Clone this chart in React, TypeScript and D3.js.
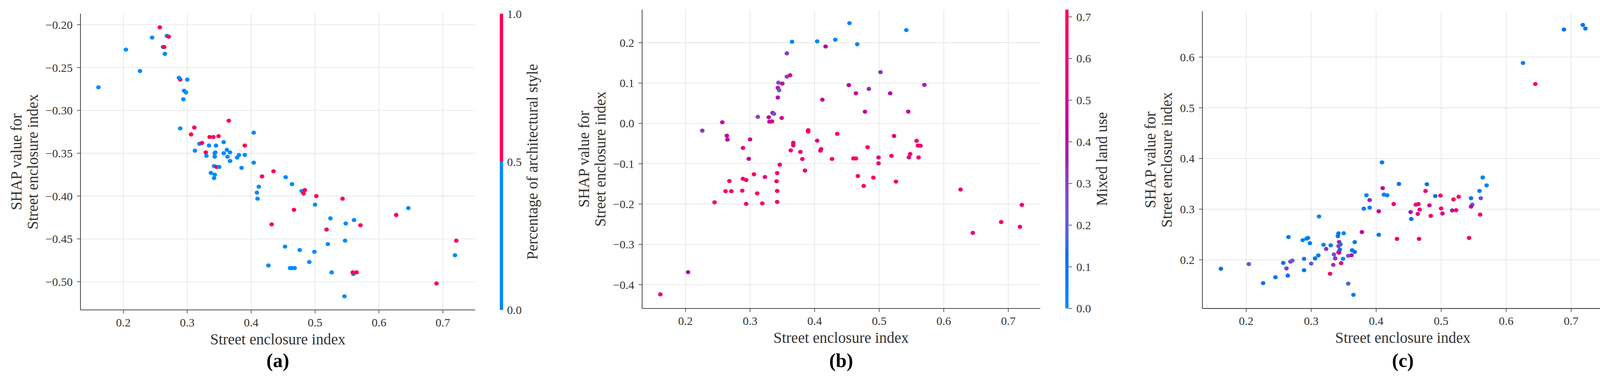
import React from "react";
import * as d3 from "d3";

type Pt = [number, number, number]; // [street enclosure, SHAP value, colour feature]

// shared x ticks
const xTickValues = [0.2, 0.3, 0.4, 0.5, 0.6, 0.7];

// y ticks per panel
const archTicksY = [-0.5, -0.45, -0.4, -0.35, -0.3, -0.25, -0.2];
const mixedTicksY = [-0.4, -0.3, -0.2, -0.1, 0, 0.1, 0.2];
const greenTicksY = [0.2, 0.3, 0.4, 0.5, 0.6];

// colour bar ticks
const archBarTicks = [0, 0.5, 1];
const mixedBarTicks = [0, 0.1, 0.2, 0.3, 0.4, 0.5, 0.6, 0.7];
const greenBarTicks = [0.05, 0.1, 0.15, 0.2, 0.25, 0.3, 0.35, 0.4];

// (a) colour = percentage of architectural style (0 / 1)
const archPoints: Pt[] = [
  [0.161, -0.273, 0], [0.204, -0.229, 0], [0.226, -0.254, 0], [0.245, -0.215, 0],
  [0.257, -0.203, 1], [0.268, -0.213, 0], [0.271, -0.214, 1], [0.262, -0.226, 0],
  [0.264, -0.226, 1], [0.265, -0.234, 0], [0.289, -0.264, 1], [0.287, -0.262, 0],
  [0.3, -0.264, 0], [0.295, -0.277, 0], [0.298, -0.279, 0], [0.294, -0.287, 0],
  [0.289, -0.321, 0], [0.311, -0.32, 1], [0.306, -0.328, 1], [0.365, -0.312, 1],
  [0.335, -0.331, 1], [0.341, -0.331, 1], [0.349, -0.33, 1], [0.404, -0.326, 0],
  [0.319, -0.339, 0], [0.323, -0.338, 1], [0.312, -0.347, 0], [0.334, -0.341, 0],
  [0.345, -0.341, 0], [0.357, -0.337, 0], [0.39, -0.341, 1], [0.329, -0.349, 1],
  [0.33, -0.353, 0], [0.343, -0.35, 0], [0.344, -0.349, 0], [0.343, -0.354, 0],
  [0.362, -0.346, 0], [0.367, -0.349, 0], [0.357, -0.35, 0], [0.363, -0.354, 0],
  [0.367, -0.359, 0], [0.381, -0.352, 0], [0.378, -0.355, 0], [0.39, -0.352, 0],
  [0.404, -0.361, 0], [0.342, -0.365, 0], [0.346, -0.366, 1], [0.35, -0.366, 0],
  [0.385, -0.367, 0], [0.337, -0.373, 0], [0.343, -0.375, 0], [0.342, -0.379, 0],
  [0.417, -0.377, 1], [0.435, -0.371, 1], [0.454, -0.378, 0], [0.464, -0.386, 0],
  [0.412, -0.389, 0], [0.409, -0.396, 0], [0.41, -0.403, 0], [0.479, -0.394, 0],
  [0.484, -0.393, 1], [0.482, -0.397, 1], [0.502, -0.4, 1], [0.543, -0.403, 1],
  [0.5, -0.41, 0], [0.467, -0.416, 1], [0.432, -0.433, 1], [0.524, -0.426, 0],
  [0.561, -0.428, 0], [0.548, -0.432, 0], [0.571, -0.434, 1], [0.518, -0.439, 1],
  [0.547, -0.452, 0], [0.52, -0.456, 0], [0.453, -0.459, 0], [0.476, -0.463, 0],
  [0.499, -0.465, 0], [0.491, -0.477, 0], [0.427, -0.481, 0], [0.461, -0.484, 0],
  [0.464, -0.484, 0], [0.468, -0.484, 0], [0.526, -0.489, 0], [0.56, -0.491, 0],
  [0.559, -0.489, 1], [0.565, -0.489, 1], [0.546, -0.517, 0], [0.627, -0.422, 1],
  [0.646, -0.414, 0], [0.69, -0.502, 1], [0.721, -0.452, 1], [0.719, -0.469, 0],
];

// (b) colour = mixed land use
const mixedPoints: Pt[] = [
  [0.454, 0.2485, 0.02], [0.542, 0.2314, 0.02], [0.365, 0.2026, 0.02], [0.404, 0.2036, 0.02],
  [0.432, 0.2075, 0.02], [0.466, 0.1962, 0.03], [0.417, 0.1907, 0.42], [0.357, 0.1736, 0.3],
  [0.502, 0.1271, 0.33], [0.362, 0.1194, 0.5], [0.357, 0.1159, 0.3], [0.344, 0.101, 0.27],
  [0.35, 0.0987, 0.45], [0.343, 0.0881, 0.4], [0.345, 0.0823, 0.25], [0.343, 0.0642, 0.4],
  [0.453, 0.0949, 0.42], [0.484, 0.0855, 0.33], [0.517, 0.0745, 0.42], [0.57, 0.0955, 0.36],
  [0.464, 0.0745, 0.45], [0.412, 0.0588, 0.45], [0.478, 0.029, 0.47], [0.545, 0.0293, 0.47],
  [0.312, 0.0162, 0.3], [0.329, 0.0152, 0.4], [0.335, 0.0261, 0.45], [0.337, 0.0236, 0.25],
  [0.33, 0.0042, 0.5], [0.334, 0.0051, 0.48], [0.349, 0.0136, 0.5], [0.3, -0.0397, 0.45],
  [0.39, -0.0167, 0.68], [0.39, -0.02, 0.68], [0.435, -0.0258, 0.65], [0.523, -0.0313, 0.52],
  [0.404, -0.0429, 0.55], [0.367, -0.0481, 0.55], [0.367, -0.0545, 0.55], [0.289, -0.0607, 0.62],
  [0.363, -0.0668, 0.63], [0.378, -0.0707, 0.63], [0.41, -0.0636, 0.62], [0.409, -0.0675, 0.57],
  [0.482, -0.059, 0.66], [0.558, -0.0432, 0.64], [0.56, -0.0549, 0.58], [0.564, -0.0555, 0.65],
  [0.548, -0.0758, 0.63], [0.546, -0.0842, 0.57], [0.561, -0.0845, 0.63], [0.519, -0.0804, 0.62],
  [0.499, -0.0845, 0.57], [0.499, -0.099, 0.57], [0.46, -0.0868, 0.67], [0.464, -0.0868, 0.67],
  [0.427, -0.0881, 0.63], [0.298, -0.0878, 0.47], [0.381, -0.0884, 0.62], [0.346, -0.1023, 0.63],
  [0.385, -0.1168, 0.55], [0.467, -0.1304, 0.66], [0.491, -0.1343, 0.65], [0.526, -0.1442, 0.6],
  [0.476, -0.1549, 0.66], [0.306, -0.1262, 0.64], [0.323, -0.1329, 0.6], [0.342, -0.1233, 0.63],
  [0.341, -0.1436, 0.65], [0.342, -0.1675, 0.66], [0.342, -0.1946, 0.6], [0.311, -0.1736, 0.66],
  [0.319, -0.1982, 0.66], [0.294, -0.1994, 0.6], [0.289, -0.1372, 0.6], [0.294, -0.1404, 0.66],
  [0.288, -0.1668, 0.6], [0.161, -0.4237, 0.6], [0.204, -0.3688, 0.4], [0.226, -0.018, 0.32],
  [0.257, 0.0029, 0.48], [0.264, -0.0305, 0.45], [0.265, -0.0401, 0.4], [0.245, -0.1955, 0.62],
  [0.268, -0.1429, 0.66], [0.262, -0.168, 0.66], [0.271, -0.168, 0.66], [0.626, -0.1638, 0.6],
  [0.645, -0.2714, 0.6], [0.689, -0.2444, 0.6], [0.721, -0.202, 0.6], [0.718, -0.2564, 0.6],
];

// (c) colour = green view index
const greenPoints: Pt[] = [
  [0.409, 0.3924, 0.08], [0.435, 0.3498, 0.08], [0.478, 0.3492, 0.08], [0.41, 0.3415, 0.28],
  [0.476, 0.3359, 0.36], [0.385, 0.3274, 0.04], [0.412, 0.3287, 0.04], [0.417, 0.3274, 0.04],
  [0.491, 0.3259, 0.08], [0.499, 0.3269, 0.42], [0.39, 0.318, 0.22], [0.427, 0.3102, 0.35],
  [0.461, 0.3089, 0.37], [0.465, 0.3102, 0.37], [0.482, 0.3076, 0.3], [0.381, 0.301, 0.06],
  [0.39, 0.303, 0.04], [0.404, 0.2958, 0.28], [0.467, 0.2992, 0.35], [0.5, 0.3015, 0.4],
  [0.453, 0.2943, 0.24], [0.464, 0.2907, 0.34], [0.502, 0.2915, 0.3], [0.484, 0.2868, 0.4],
  [0.454, 0.2807, 0.08], [0.312, 0.2856, 0.04], [0.378, 0.2548, 0.28], [0.404, 0.2494, 0.07],
  [0.432, 0.2414, 0.4], [0.466, 0.2414, 0.4], [0.265, 0.245, 0.06], [0.287, 0.2388, 0.04],
  [0.293, 0.2419, 0.06], [0.295, 0.2432, 0.06], [0.298, 0.2329, 0.06], [0.319, 0.2298, 0.04],
  [0.33, 0.2286, 0.06], [0.342, 0.2522, 0.07], [0.341, 0.2468, 0.07], [0.35, 0.2525, 0.04],
  [0.343, 0.2352, 0.22], [0.345, 0.2306, 0.07], [0.342, 0.2273, 0.18], [0.323, 0.2216, 0.2],
  [0.344, 0.2201, 0.08], [0.342, 0.2149, 0.3], [0.343, 0.2142, 0.32], [0.367, 0.235, 0.07],
  [0.363, 0.219, 0.07], [0.367, 0.2155, 0.07], [0.335, 0.2106, 0.14], [0.357, 0.208, 0.15],
  [0.362, 0.209, 0.24], [0.311, 0.2088, 0.07], [0.306, 0.2029, 0.08], [0.289, 0.2021, 0.1],
  [0.337, 0.2029, 0.2], [0.349, 0.2021, 0.03], [0.268, 0.1965, 0.18], [0.271, 0.1985, 0.15],
  [0.257, 0.1939, 0.08], [0.3, 0.1926, 0.14], [0.346, 0.1936, 0.37], [0.334, 0.1901, 0.2],
  [0.204, 0.1916, 0.16], [0.262, 0.1831, 0.19], [0.289, 0.1795, 0.07], [0.264, 0.169, 0.08],
  [0.245, 0.1656, 0.07], [0.226, 0.1541, 0.07], [0.329, 0.1726, 0.4], [0.357, 0.1531, 0.12],
  [0.365, 0.131, 0.06], [0.161, 0.1824, 0.08], [0.689, 0.6546, 0.08], [0.718, 0.6636, 0.08],
  [0.722, 0.6565, 0.08], [0.626, 0.5885, 0.04], [0.645, 0.5471, 0.4], [0.564, 0.3626, 0.04],
  [0.57, 0.3469, 0.04], [0.559, 0.336, 0.04], [0.546, 0.3217, 0.07], [0.561, 0.3217, 0.15],
  [0.548, 0.3089, 0.13], [0.546, 0.3051, 0.28], [0.56, 0.2894, 0.4], [0.543, 0.2432, 0.4],
  [0.519, 0.3193, 0.38], [0.527, 0.3246, 0.4], [0.517, 0.2975, 0.24], [0.523, 0.2979, 0.38],
];

const INK = "#333333";
const FONT = "'Palatino Linotype', 'Book Antiqua', Palatino, 'Liberation Serif', serif";

// shap's red_blue map: LCh (D65) walk from blue to red, lightness dips to 40 in the middle
const lchToHex = (L: number, C: number, h: number) => {
  const a = C * Math.cos(h);
  const b = C * Math.sin(h);
  const fy = (L + 16) / 116;
  const fx = fy + a / 500;
  const fz = fy - b / 200;
  const inv = (t: number) => (t > 6 / 29 ? t * t * t : 3 * (6 / 29) * (6 / 29) * (t - 4 / 29));
  const X = 0.95047 * inv(fx);
  const Y = inv(fy);
  const Z = 1.08883 * inv(fz);
  const lin = [
    3.2404542 * X - 1.5371385 * Y - 0.4985314 * Z,
    -0.969266 * X + 1.8760108 * Y + 0.041556 * Z,
    0.0556434 * X - 0.2040259 * Y + 1.0572252 * Z,
  ];
  const [r, g, bb] = lin.map((v) => {
    const s = v <= 0.0031308 ? 12.92 * v : 1.055 * Math.pow(Math.max(v, 0), 1 / 2.4) - 0.055;
    return Math.round(Math.max(0, Math.min(1, s)) * 255);
  });
  return d3.rgb(r, g, bb).formatHex();
};

const redBlue = (t: number) => {
  const u = Math.max(0, Math.min(1, t));
  const L = u < 0.5 ? 54 - 14 * (u / 0.5) : 40 + 14 * ((u - 0.5) / 0.5);
  const C = 70 + 20 * u;
  const H = 4.6588 + (0.35470565 + 2 * Math.PI - 4.6588) * u;
  return lchToHex(L, C, H);
};

const BLUE = redBlue(0);
const RED = redBlue(1);

interface PanelSpec {
  id: string;
  letter: string;
  barLabel: string;
  points: Pt[];
  left: number;
  right: number;
  top: number;
  bottom: number;
  xDomain: [number, number];
  yDomain: [number, number];
  yTicks: number[];
  yFmt: string;
  yLabelX: [number, number];
  barX: number;
  barW: number;
  cDomain: [number, number];
  barTicks: number[];
  barFmt: string;
  barTickMarks: boolean;
  barLabelX: number;
  discrete: boolean;
}

const panels: PanelSpec[] = [
  {
    id: "a", letter: "(a)", barLabel: "Percentage of architectural style", points: archPoints,
    left: 206, right: 1216.5, top: 35, bottom: 793.7,
    xDomain: [0.1329, 0.7506], yDomain: [-0.5329, -0.1871], yTicks: archTicksY, yFmt: ".2f",
    yLabelX: [41, 83], barX: 1279.5, barW: 8.5, cDomain: [0, 1], barTicks: archBarTicks,
    barFmt: ".1f", barTickMarks: false, barLabelX: 1362, discrete: true,
  },
  {
    id: "b", letter: "(b)", barLabel: "Mixed land use", points: mixedPoints,
    left: 1643.8, right: 2662.9, top: 24.7, bottom: 789.9,
    xDomain: [0.1328, 0.7494], yDomain: [-0.4588, 0.282], yTicks: mixedTicksY, yFmt: ".1f",
    yLabelX: [1494, 1536.4], barX: 2727.2, barW: 8.2, cDomain: [0, 0.7174], barTicks: mixedBarTicks,
    barFmt: ".1f", barTickMarks: true, barLabelX: 2820.6, discrete: false,
  },
  {
    id: "c", letter: "(c)", barLabel: "Green view index", points: greenPoints,
    left: 3078.2, right: 4104.5, top: 29, bottom: 790,
    xDomain: [0.1326, 0.7496], yDomain: [0.104, 0.6904], yTicks: greenTicksY, yFmt: ".1f",
    yLabelX: [2944.6, 2986], barX: 4168.6, barW: 8.8, cDomain: [0.0132, 0.4341], barTicks: greenBarTicks,
    barFmt: ".2f", barTickMarks: true, barLabelX: 4276, discrete: false,
  },
];

const Panel: React.FC<{ p: PanelSpec }> = ({ p }) => {
  const x = d3.scaleLinear().domain(p.xDomain).range([p.left, p.right]);
  const y = d3.scaleLinear().domain(p.yDomain).range([p.bottom, p.top]);
  const cb = d3.scaleLinear().domain(p.cDomain).range([p.bottom, p.top]);
  const norm = d3.scaleLinear().domain(p.cDomain).range([0, 1]).clamp(true);
  const colorOf = (v: number) => (p.discrete ? (v >= 0.5 ? RED : BLUE) : redBlue(norm(v)));
  const fx = d3.format(".1f");
  const fy = d3.format(p.yFmt);
  const fb = d3.format(p.barFmt);
  const midY = (p.top + p.bottom) / 2;
  const midX = (p.left + p.right) / 2;
  const gradId = `grad-${p.id}`;
  const stops = d3.range(0, 1.0001, 0.02);

  return (
    <g>
      <defs>
        <linearGradient id={gradId} x1="0" y1="1" x2="0" y2="0">
          {stops.map((s) => (
            <stop key={s} offset={s} stopColor={redBlue(s)} />
          ))}
        </linearGradient>
      </defs>

      {/* grid */}
      {xTickValues.map((t) => (
        <line key={`gx${t}`} x1={x(t)} x2={x(t)} y1={p.top} y2={p.bottom} stroke="#e4e4e4" strokeWidth={1.6} />
      ))}
      {p.yTicks.map((t) => (
        <line key={`gy${t}`} x1={p.left} x2={p.right} y1={y(t)} y2={y(t)} stroke="#e4e4e4" strokeWidth={1.6} />
      ))}

      {/* points */}
      {p.points.map((d, i) => (
        <ellipse key={i} cx={x(d[0])} cy={y(d[1])} rx={5.8} ry={5.3} fill={colorOf(d[2])} />
      ))}

      {/* spines */}
      <line x1={p.left} x2={p.left} y1={p.top} y2={p.bottom} stroke={INK} strokeWidth={1.8} />
      <line x1={p.left} x2={p.right} y1={p.bottom} y2={p.bottom} stroke={INK} strokeWidth={1.8} />

      {/* x axis */}
      {xTickValues.map((t) => (
        <g key={`tx${t}`}>
          <line x1={x(t)} x2={x(t)} y1={p.bottom} y2={p.bottom + 9} stroke={INK} strokeWidth={1.5} />
          <text x={x(t)} y={p.bottom + 42} textAnchor="middle" fontSize={30} fill={INK} fontFamily={FONT}>
            {fx(t)}
          </text>
        </g>
      ))}
      <text x={midX} y={p.bottom + 88} textAnchor="middle" fontSize={39} fill={INK} fontFamily={FONT}>
        Street enclosure index
      </text>
      <text x={midX} y={940} textAnchor="middle" fontSize={50} fontWeight="bold" fill="#000" fontFamily={FONT}>
        {p.letter}
      </text>

      {/* y axis */}
      {p.yTicks.map((t) => (
        <g key={`ty${t}`}>
          <line x1={p.left - 9} x2={p.left} y1={y(t)} y2={y(t)} stroke={INK} strokeWidth={1.5} />
          <text x={p.left - 20} y={y(t)} dy="0.35em" textAnchor="end" fontSize={30} fill={INK} fontFamily={FONT}>
            {fy(t)}
          </text>
        </g>
      ))}
      <text
        transform={`translate(${p.yLabelX[0]},${midY}) rotate(-90)`}
        textAnchor="middle"
        dy="0.35em"
        fontSize={39}
        fill={INK}
        fontFamily={FONT}
      >
        SHAP value for
      </text>
      <text
        transform={`translate(${p.yLabelX[1]},${midY}) rotate(-90)`}
        textAnchor="middle"
        dy="0.35em"
        fontSize={39}
        fill={INK}
        fontFamily={FONT}
      >
        Street enclosure index
      </text>

      {/* colour bar */}
      {p.discrete ? (
        <g>
          <rect x={p.barX} y={cb(1)} width={p.barW} height={cb(0.5) - cb(1)} fill={RED} />
          <rect x={p.barX} y={cb(0.5)} width={p.barW} height={cb(0) - cb(0.5)} fill={BLUE} />
        </g>
      ) : (
        <rect x={p.barX} y={p.top} width={p.barW} height={p.bottom - p.top} fill={`url(#${gradId})`} />
      )}
      {p.barTicks.map((t) => (
        <g key={`cb${t}`}>
          {p.barTickMarks && (
            <line x1={p.barX + p.barW} x2={p.barX + p.barW + 9} y1={cb(t)} y2={cb(t)} stroke={INK} strokeWidth={1.5} />
          )}
          <text
            x={p.barX + p.barW + (p.barTickMarks ? 20 : 10)}
            y={cb(t)}
            dy="0.35em"
            fontSize={30}
            fill={INK}
            fontFamily={FONT}
          >
            {fb(t)}
          </text>
        </g>
      ))}
      <text
        transform={`translate(${p.barLabelX},${midY}) rotate(-90)`}
        textAnchor="middle"
        dy="0.35em"
        fontSize={39}
        fill={INK}
        fontFamily={FONT}
      >
        {p.barLabel}
      </text>
    </g>
  );
};

export default function App() {
  return (
    <div style={{ position: "absolute", left: 0, top: 0 }}>
      <svg width={4317} height={968} style={{ display: "block", background: "#fff" }}>
        {panels.map((p) => (
          <Panel key={p.id} p={p} />
        ))}
      </svg>
    </div>
  );
}
